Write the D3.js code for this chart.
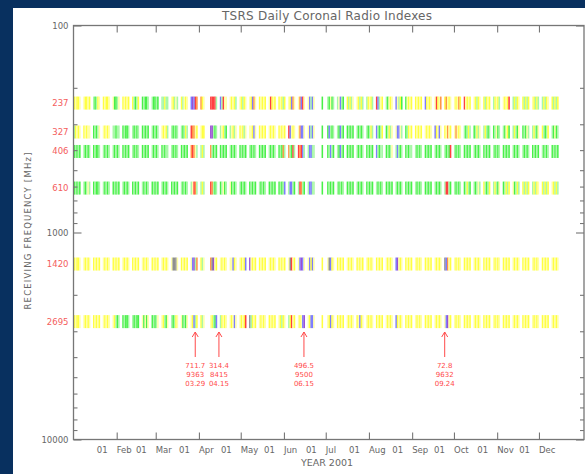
<!DOCTYPE html>
<html>
<head>
<meta charset="utf-8">
<script src="https://cdn.jsdelivr.net/npm/d3@7"></script>
<style>
  html, body { margin: 0; padding: 0; background: #08305f; }
  svg { display: block; }
  text { font-family: "DejaVu Sans", "Liberation Sans", sans-serif; }
</style>
</head>
<body>
<svg id="chart" width="585" height="474"></svg>
<script>
// Receiving frequencies (MHz), one strip each
const frequencies = [237, 327, 406, 610, 1420, 2695];

// Daily index class per weekday, one 5-letter group per week (Mon..Fri), starting Mon 1 Jan 2001.
// Y/y yellow, G/g green, R red, O orange, B blue, P purple, K grey, "." no observation.
const row237 = [
  "YyYYy","yYYyY","gGgYy","YyYYy","yGGgy","YyYyY","YgGgY","GgGGg","gGGgG","ggYgg",
  "yYgyg","YgyYy","BPBRO","OYy..","RRRRg","BgRyy","yYyYg","yYgYy","yYBOy","YyYyY",
  "yRYyY","YyYgY","yYBOy","yOBRy","yBgBy","...G.","gGyGg","gyBgG","YgYgy","yYgYg",
  "gYyYg","RBgyY","gGyYy","BygYG","GyYyY","YyYyY","BYyYy","yRYyO","YOyYy","yYyOY",
  "RyYyY","yYgYy","YgYyY","gYyYg","yYyYR","gYgYy","YgYgY","yYgYg","gYgYy","YgYgY"];
const row327 = [
  "gYyYy","YyYyy","GgGgy","yYyYy","ggGgg","GgGGg","gGgGg","GgGgG","gGgGg","yYyYg",
  "gGgGg","gGgYg","ROOyY","yYY..","PPgGg","gyYgG","gyYgy","YyYgy","yyYBy","YyYyY",
  "yYyYy","YyYyY","RByYy","yOBBy","yBgBy","...G.","GBgGg","gGBgG","GgGgG","gGgGg",
  "gGgYg","BgGgY","GgYgy","yBByg","GgYyY","YyYyY","yYyYy","BYyBy","YyOyY","yOyYy",
  "gGgYg","GgYgy","gYgGg","GgyGg","gGyYG","gYgGy","GgGyg","gYgGy","YgGgY","gGyGg"];
const row406 = [
  "GgGgG","gGgGg","GgGGg","gGgGg","gGgGg","GgGgG","gGgGg","GgGgG","gGgGg","GgGgg",
  "gGgGg","GgGgG","OROyg","gYg..","OgGgG","GgGgG","gGgGg","GgGgG","gGgGg","GgGgG",
  "gGgGg","GgGOg","OgGRg","RORBg","gBBgg","...G.","GgBgG","gGBgG","GgGgG","gGgGg",
  "GgGgG","BgGgg","GgGgy","gBgGg","GgGgg","gGgGg","GgGgG","gGgGg","gGgGR","gGgGg",
  "GgGgG","gGgGg","GgGgG","gGgGg","GgGgG","gGgGg","gGgGg","GgGgG","gGgGg","GgGgG"];
const row610 = [
  "GgGgG","gGgyg","GgGGg","gGgGg","GgGgG","gGgGg","GgGgG","gGgGg","GgGgG","gGgGg",
  "GgGgG","gGgGg","gyROg","gYg..","ROgGg","GgyGg","yGgGg","gGgGg","GgGgG","gGgGg",
  "GgGgG","GgGgB","gBBgG","gROgG","gBBgg","...G.","GgGgG","gGgGg","GgGgG","gGgGg",
  "GgGgG","gGgGg","GgGgG","gGgGg","GgGgG","gGgGg","GgGgG","gGgGg","gRRgG","gGgGg",
  "GgYgG","gGgyg","YgGgY","gYgGy","GgYgY","yGgYg","YgYgY","gYgYy","YgYgY","yYgYg"];
const row1420 = [
  "YyYYy","yYyYy","YyYyY","yYyYy","YyYyY","yYyYy","YyYyY","yYyYy","YyYyY","yYyYy",
  "yKKKy","YyYyY","yBPgO","Ygy..","OKPyY","yYyYy","yyBYy","yYyYB","PyYyY","YyYyY",
  "yYyYy","YyYyY","yKRyY","yBPBy","yBYBy","...Y.","yKBYy","YyYyY","yYyYy","YyYyY",
  "yYyYy","YyYyY","yYyYy","BPyYy","YyYyY","yYyYy","YyYyY","yYyYy","KBOyY","yYyYy",
  "YyYyY","yYyYy","YyYyY","yYyYy","YyYyY","yYyYy","YyYyY","yYyYy","YyYyY","yYyYy"];
const row2695 = [
  "YyYYy","yYyYy","YyYyY","yYyYy","yYgGg","GgGGg","gGgGG","yGyGy","GgGgy","yYgGy",
  "gGgYy","yGgGy","yYBgY","Ygy..","yYgGB","gYyYy","yYyBy","yYyYR","KgYyY","yYyYy",
  "YyYyY","yYgYy","gYRyY","yYyBP","yYBBy","...Y.","yYBYy","YyYyY","yYyYy","YyBYy",
  "yYyYy","YyYyY","yYyYy","BYyYy","YyYyY","yYyYy","YyYyY","yYyYy","yBPyY","yYyYy",
  "YyYyY","yYyYy","YyYyY","yYyYy","YyYyY","yYyYy","YyYyY","yYyYy","YyYyY","yYyYy"];

// Month tick labels (first of each month)
const monthLabels = ["Feb","Mar","Apr","May","Jun","Jul","Aug","Sep","Oct","Nov","Dec"];

// Annotated events below the 2695 MHz strip
const eventDates  = ["2001-03-29","2001-04-15","2001-06-15","2001-09-24"];
const eventFlux   = ["711.7","314.4","496.5","72.8"];
const eventFreq   = ["9363","8415","9500","9632"];
const eventLabels = ["03.29","04.15","06.15","09.24"];

const classColor = {
  Y: "#ffff40", y: "#ffffa6",
  G: "#48f048", g: "#a8f8a8",
  R: "#ff4040", O: "#ff9444",
  B: "#7c7cff", P: "#9a50d4",
  K: "#909090"
};

const rows = [row237, row327, row406, row610, row1420, row2695];

const svg = d3.select("#chart");
const W = 585, H = 474;
const plot = { left: 73.5, right: 584, top: 25.5, bottom: 439.5 };

svg.append("rect").attr("width", W).attr("height", H).attr("fill", "#08305f");
svg.append("rect").attr("x", 13).attr("y", 8).attr("width", W - 13).attr("height", H - 8).attr("fill", "#ffffff");

const start = new Date(2001, 0, 1);
const x = d3.scaleTime()
  .domain([start, new Date(2002, 0, 1)])
  .range([plot.left, plot.left + 365 * 1.3936]);
const y = d3.scaleLog().domain([100, 10000]).range([plot.top, plot.bottom]);

const dayDate = i => d3.timeDay.offset(start, i);

// Flatten week groups into dated cells
const cells = [];
rows.forEach((weeks, r) => {
  weeks.forEach((wk, w) => {
    for (let d = 0; d < wk.length; d++) {
      const c = wk[d];
      if (c === ".") continue;
      cells.push({ freq: frequencies[r], date: dayDate(w * 7 + d), cls: c });
    }
  });
});

const stripH = 13;
svg.append("g").selectAll("rect").data(cells).join("rect")
  .attr("x", d => x(d.date))
  .attr("width", d => x(d3.timeDay.offset(d.date, 1)) - x(d.date) + 0.15)
  .attr("y", d => y(d.freq) - stripH / 2)
  .attr("height", stripH)
  .attr("fill", d => classColor[d.cls]);

// Frame
const axisColor = "#767676";
svg.append("rect")
  .attr("x", plot.left).attr("y", plot.top)
  .attr("width", plot.right - plot.left).attr("height", plot.bottom - plot.top)
  .attr("fill", "none").attr("stroke", axisColor).attr("stroke-width", 1.3);

// Y axes: major and minor log ticks, pointing inward on both sides
const majorY = [100, 1000, 10000];
const minorY = [];
[100, 1000].forEach(b => { for (let k = 2; k <= 9; k++) minorY.push(b * k); });

function styleAxis(g) {
  g.select(".domain").remove();
  g.selectAll(".tick line").attr("stroke", axisColor).attr("stroke-width", 1.1);
  g.selectAll(".tick text").attr("fill", "#666").attr("font-size", 8.5);
}

svg.append("g").attr("transform", `translate(${plot.left},0)`)
  .call(d3.axisLeft(y).tickValues(majorY).tickSize(-8).tickPadding(5).tickFormat(d3.format("d")))
  .call(styleAxis);
svg.append("g").attr("transform", `translate(${plot.left},0)`)
  .call(d3.axisLeft(y).tickValues(minorY).tickSize(-4).tickFormat(""))
  .call(styleAxis);
svg.append("g").attr("transform", `translate(${plot.right},0)`)
  .call(d3.axisRight(y).tickValues(majorY).tickSize(-8).tickFormat(""))
  .call(styleAxis);
svg.append("g").attr("transform", `translate(${plot.right},0)`)
  .call(d3.axisRight(y).tickValues(minorY).tickSize(-4).tickFormat(""))
  .call(styleAxis);

// Frequency labels
svg.append("g").selectAll("text").data(frequencies).join("text")
  .attr("x", 68.5).attr("y", d => y(d)).attr("dy", "0.35em")
  .attr("text-anchor", "end").attr("font-size", 8.5).attr("fill", "#f45c5c")
  .text(d => d);

// X axes: month ticks inward on bottom and top
const monthTicks = monthLabels.map((m, i) => new Date(2001, i + 1, 1));
svg.append("g").attr("transform", `translate(0,${plot.bottom})`)
  .call(d3.axisBottom(x).tickValues(monthTicks).tickSize(-7).tickFormat(""))
  .call(styleAxis);
svg.append("g").attr("transform", `translate(0,${plot.top})`)
  .call(d3.axisTop(x).tickValues(monthTicks).tickSize(-7).tickFormat(""))
  .call(styleAxis);

const labG = svg.append("g").attr("font-size", 8.5).attr("fill", "#666");
monthTicks.forEach((t, i) => {
  const tx = x(t);
  labG.append("text").attr("x", tx - 9).attr("y", 453).attr("text-anchor", "end").text("01");
  labG.append("text").attr("x", tx).attr("y", 453).attr("text-anchor", "start").text(monthLabels[i]);
});

svg.append("text").attr("x", 327).attr("y", 466).attr("text-anchor", "middle")
  .attr("font-size", 9.5).attr("fill", "#666").text("YEAR 2001");

svg.append("text").attr("x", 327).attr("y", 20).attr("text-anchor", "middle")
  .attr("font-size", 12).attr("fill", "#666")
  .attr("textLength", 210).attr("lengthAdjust", "spacing")
  .text("TSRS Daily Coronal Radio Indexes");

svg.append("text").attr("transform", "translate(31,231) rotate(-90)")
  .attr("text-anchor", "middle").attr("font-size", 8.5).attr("fill", "#666")
  .attr("textLength", 157).attr("lengthAdjust", "spacing")
  .text("RECEIVING FREQUENCY [MHz]");

// Event arrows and labels
const evColor = "#ff4a4a";
const evG = svg.append("g");
eventDates.forEach((ds, i) => {
  const ex = x(d3.timeParse("%Y-%m-%d")(ds)) + 0.5;
  const g = evG.append("g");
  g.append("line").attr("x1", ex).attr("x2", ex).attr("y1", 357).attr("y2", 332)
    .attr("stroke", evColor).attr("stroke-width", 1);
  g.append("path").attr("d", `M${ex - 3},${337} L${ex},${332} L${ex + 3},${337}`)
    .attr("fill", "none").attr("stroke", evColor).attr("stroke-width", 1);
  [eventFlux[i], eventFreq[i], eventLabels[i]].forEach((t, k) => {
    g.append("text").attr("x", ex).attr("y", 368 + k * 9).attr("text-anchor", "middle")
      .attr("font-size", 7).attr("fill", evColor).text(t);
  });
});
</script>
</body>
</html>
